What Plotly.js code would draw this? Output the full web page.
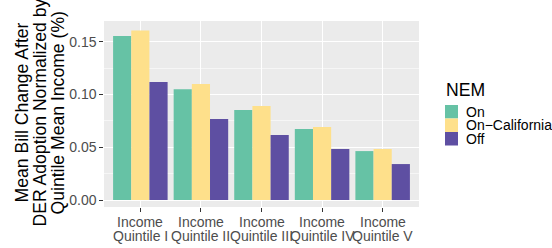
<!DOCTYPE html>
<html>
<head>
<meta charset="utf-8">
<script src="https://cdn.plot.ly/plotly-3.0.1.min.js"></script>
<style>html,body{margin:0;padding:0;background:#fff;}#chart{width:552px;height:248px;}</style>
</head>
<body>
<div id="chart"></div>
<script>
var categories = ["Quintile I", "Quintile II", "Quintile III", "Quintile IV", "Quintile V"];
var categoryPrefix = "Income";
var seriesNames = ["On", "On\u2212California", "Off"];
var seriesColors = ["#66C2A5", "#FEE08B", "#5E4FA2"];
var valuesOn = [0.1555, 0.1050, 0.0853, 0.0673, 0.0464];
var valuesOnCalifornia = [0.1608, 0.1100, 0.0891, 0.0692, 0.0483];
var valuesOff = [0.1118, 0.0768, 0.0616, 0.0483, 0.0341];
var yTickVals = [0, 0.05, 0.10, 0.15];
var yTickText = ["0.00", "0.05", "0.10", "0.15"];
var legendTitle = "NEM";
var yTitleLines = ["Mean Bill Change After", "DER Adoption Normalized by", "Quintile Mean Income (%)"];

var allValues = [valuesOn, valuesOnCalifornia, valuesOff];
var traces = allValues.map(function (vals, i) {
  return {
    type: "bar",
    x: categories,
    y: vals,
    name: seriesNames[i],
    marker: {color: seriesColors[i], line: {width: 0}},
    showlegend: false,
    hoverinfo: "x+y+name"
  };
});

var font = "Liberation Sans, Arial, sans-serif";
var annotations = [];
var shapes = [];
var L = 104, T = 21, W = 315, H = 186;
function px(x) { return (x - L) / W; }
function py(y) { return 1 - (y - T) / H; }

// y-axis title (3 lines, ggplot-like tight line spacing)
var titleX = [21.5, 39.5, 57.5];
yTitleLines.forEach(function (ln, i) {
  annotations.push({
    xref: "paper", yref: "paper",
    x: px(titleX[i]), y: py(113), xanchor: "center", yanchor: "middle",
    text: ln, textangle: -90, showarrow: false,
    font: {family: font, size: 17.6, color: "#000"}
  });
});

// x tick labels, two lines each, placed on the category axis
categories.forEach(function (c) {
  annotations.push({
    xref: "x", yref: "paper", x: c, y: py(221.5),
    xanchor: "center", yanchor: "middle", showarrow: false,
    text: categoryPrefix, font: {family: font, size: 14, color: "#4D4D4D"}
  });
  annotations.push({
    xref: "x", yref: "paper", x: c, y: py(235.5),
    xanchor: "center", yanchor: "middle", showarrow: false,
    text: c, font: {family: font, size: 14, color: "#4D4D4D"}
  });
});

// manual legend (ggplot style)
var legX0 = 445, keyW = 13, keyH = 13.5, keyTop = 105;
annotations.push({
  xref: "paper", yref: "paper",
  x: px(legX0 - 1), y: py(90),
  xanchor: "left", yanchor: "middle", showarrow: false,
  text: legendTitle, font: {family: font, size: 17.6, color: "#000"}
});
seriesNames.forEach(function (nm, i) {
  var top = keyTop + i * keyH;
  shapes.push({
    type: "rect", xref: "paper", yref: "paper",
    x0: px(legX0), x1: px(legX0 + keyW),
    y0: py(top + keyH), y1: py(top),
    fillcolor: seriesColors[i], line: {width: 0}
  });
  annotations.push({
    xref: "paper", yref: "paper",
    x: px(legX0 + keyW + 6), y: py(top + keyH / 2),
    xanchor: "left", yanchor: "middle", showarrow: false,
    text: nm, font: {family: font, size: 14, color: "#000"}
  });
});

var layout = {
  width: 552, height: 248,
  margin: {l: 104, r: 133, t: 21, b: 41, pad: 0},
  paper_bgcolor: "#fff",
  plot_bgcolor: "#EBEBEB",
  barmode: "group",
  bargap: 0.1,
  bargroupgap: 0,
  showlegend: false,
  font: {family: font},
  xaxis: {
    type: "category",
    range: [-0.6, 4.6],
    tickangle: 0,
    showticklabels: false,
    showgrid: true, gridcolor: "#fff", gridwidth: 1.07,
    zeroline: false, showline: false,
    ticks: "outside", ticklen: 3.7, tickwidth: 1.07, tickcolor: "#333",
    fixedrange: true
  },
  yaxis: {
    range: [-0.0066, 0.1697],
    tickvals: yTickVals, ticktext: yTickText,
    showgrid: true, gridcolor: "#fff", gridwidth: 1.07,
    minor: {tickvals: [0.025, 0.075, 0.125], showgrid: true, gridcolor: "#fff", gridwidth: 0.53, ticks: ""},
    zeroline: false, showline: false,
    ticks: "outside", ticklen: 3.7, tickwidth: 1.07, tickcolor: "#333",
    tickfont: {family: font, size: 14, color: "#4D4D4D"},
    fixedrange: true
  },
  annotations: annotations,
  shapes: shapes
};

Plotly.newPlot("chart", traces, layout, {displayModeBar: false, staticPlot: true});
</script>
</body>
</html>
